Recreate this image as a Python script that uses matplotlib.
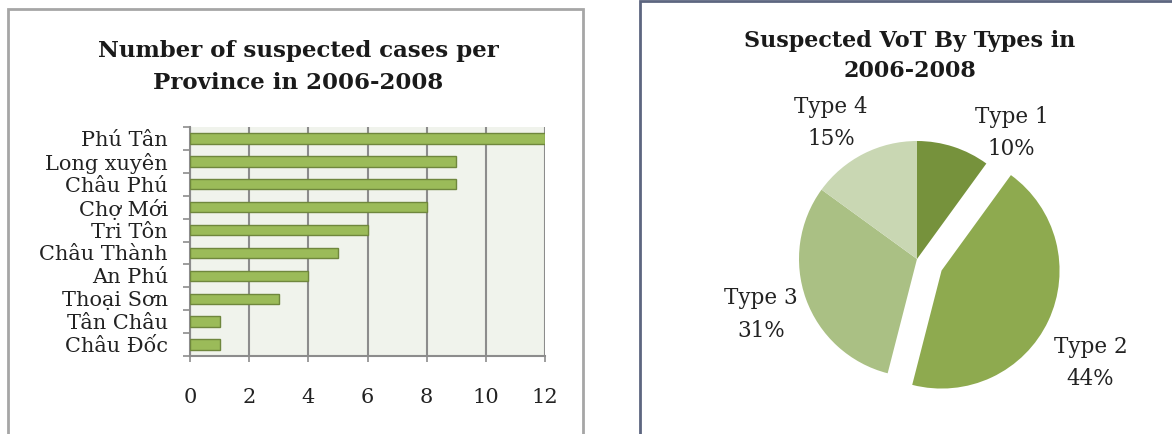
import matplotlib.pyplot as plt
from matplotlib.patches import Rectangle
import numpy as np

# bar chart data (top to bottom as in the picture)
provinces = ["Phú Tân", "Long xuyên", "Châu Phú", "Chợ Mới", "Tri Tôn",
             "Châu Thành", "An Phú", "Thoại Sơn", "Tân Châu", "Châu Đốc"]
cases = [12, 9, 9, 8, 6, 5, 4, 3, 1, 1]
x_ticks = [0, 2, 4, 6, 8, 10, 12]

# pie chart data
types = ["Type 1", "Type 2", "Type 3", "Type 4"]
shares = [10, 44, 31, 15]
pie_colors = ["#76923c", "#8eaa4f", "#aac084", "#c9d7b3"]
label_xy = [(0.80, 1.07), (1.47, -0.88), (-1.32, -0.47), (-0.73, 1.15)]

plt.rcParams["font.family"] = ["DejaVu Serif"]

W, H = 1172, 434
fig = plt.figure(figsize=(W / 100, H / 100), dpi=100)

# panel frames
fig.patches.append(Rectangle((8 / W, -0.1), 575 / W, (H - 9) / H + 0.1,
                             transform=fig.transFigure, fill=False,
                             edgecolor="#a6a6a6", linewidth=2))
fig.patches.append(Rectangle((640 / W, -0.1), 1.0, (H - 1) / H + 0.1,
                             transform=fig.transFigure, fill=False,
                             edgecolor="#5d6680", linewidth=2))

# ---- bar chart ----
ax = fig.add_axes([190 / W, 78 / H, 355 / W, 229 / H])
ax.set_facecolor("#f0f3ec")
y = np.arange(len(provinces))
ax.barh(y, cases, height=0.45, color="#9bbb59", edgecolor="#6f873d",
        linewidth=1, zorder=3)
ax.set_xlim(0, 12)
ax.set_ylim(len(provinces) - 0.5, -0.5)
ax.set_xticks(x_ticks)
ax.tick_params(axis="x", length=4, width=1.2, color="#8c8c8c", pad=19,
               labelsize=15, labelcolor="#222222")
ax.set_yticks(y)
ax.set_yticklabels(provinces)
ax.tick_params(axis="y", which="major", length=0, pad=16, labelsize=15,
               labelcolor="#222222")
ax.set_yticks(np.arange(-0.5, len(provinces)), minor=True)
ax.tick_params(axis="y", which="minor", length=5, width=1.2, color="#8c8c8c")
ax.grid(axis="x", color="#8c8c8c", linewidth=1.5, zorder=1)
for s in ["top", "right"]:
    ax.spines[s].set_visible(False)
for s in ["left", "bottom"]:
    ax.spines[s].set_color("#8c8c8c")
    ax.spines[s].set_linewidth(1.5)

fig.text(298 / W, 1 - 67 / H, "Number of suspected cases per\nProvince in 2006-2008",
         ha="center", va="center", fontsize=16.5, fontweight="bold",
         linespacing=1.55, color="#1a1a1a")

# ---- pie chart ----
r_px = 118
cx, cy = 917, H - 259
aw, ah = 217, 170
pax = fig.add_axes([(cx - aw) / W, (cy - ah) / H, 2 * aw / W, 2 * ah / H])
explode = [0, 0.23, 0, 0]
pax.pie(shares, colors=pie_colors, startangle=90, counterclock=False,
        explode=explode, radius=1)
pax.set_xlim(-aw / r_px, aw / r_px)
pax.set_ylim(-ah / r_px, ah / r_px)
pax.set_aspect("equal", adjustable="box")
for name, v, (lx, ly) in zip(types, shares, label_xy):
    pax.text(lx, ly, f"{name}\n{v}%", ha="center", va="center",
             fontsize=15.5, linespacing=1.6, color="#222222")

fig.text(910 / W, 1 - 56 / H, "Suspected VoT By Types in\n2006-2008",
         ha="center", va="center", fontsize=16, fontweight="bold",
         linespacing=1.5, color="#1a1a1a")

fig.savefig("out.png", dpi=100, facecolor="white")
